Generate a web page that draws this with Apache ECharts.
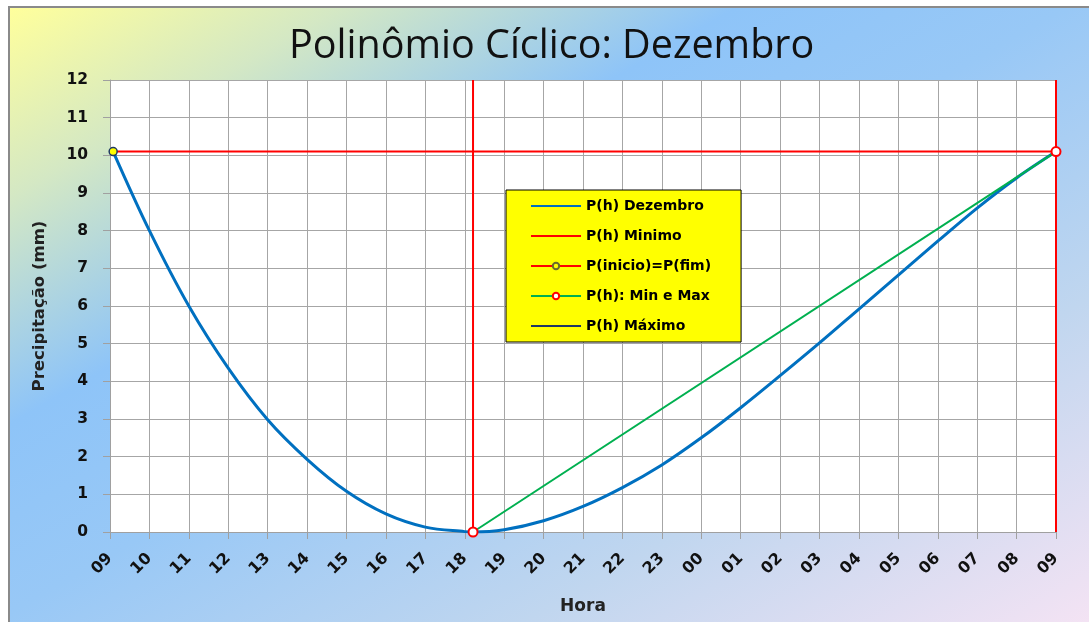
<!DOCTYPE html>
<html><head><meta charset="utf-8">
<script src="https://cdn.jsdelivr.net/npm/echarts@6/dist/echarts.min.js"></script>
<style>
html,body{margin:0;padding:0;background:#fff;overflow:hidden}
#bg{position:absolute;left:8px;top:6px;width:1100px;height:630px;border-left:2px solid #8a8a8a;border-top:2px solid #8a8a8a;
background:linear-gradient(to bottom right,#ffff9c 0%,#d4e8c4 15%,#8ec4f8 33%,#98c8f6 48%,#c0d6ef 72%,#f8e4f4 100%);}
#chart{position:absolute;left:0;top:0;width:1089px;height:622px}
</style></head>
<body><div id="bg"></div><div id="chart"></div>
<script>
// hours after 09:00
const hourLabels = ['09','10','11','12','13','14','15','16','17','18','19','20','21','22','23','00','01','02','03','04','05','06','07','08','09'];
const curveX = [0.08,1,2,3,4,5,6,7,8,9,9.21,10,11,12,13,14,15,16,17,18,19,20,21,22,23,24];
const curveY = [10.1,8.0,6.0,4.35,2.98,1.93,1.08,0.48,0.13,0.01,0,0.06,0.3,0.68,1.18,1.78,2.5,3.3,4.15,5.02,5.92,6.82,7.72,8.6,9.4,10.1];
const startX = 0.08, endX = 24, minX = 9.21;
const startY = 10.1, minY = 0, yTop = 12;

const chart = echarts.init(document.getElementById('chart'), null, {renderer:'canvas'});
const BOLD = 'DejaVu Sans';
const curve = curveX.map((x,i)=>[x,curveY[i]]);
const noSym = {itemStyle:{opacity:0}};
chart.setOption({
  backgroundColor:'transparent',
  animation:false,
  title:{text:'Polinômio Cíclico: Dezembro',left:284,top:22,
    textStyle:{fontFamily:'Open Sans',fontSize:39.5,fontWeight:'normal',color:'#111'}},
  grid:{left:110,right:33,top:80,bottom:90,show:true,backgroundColor:'#fff',borderWidth:0,outerBoundsMode:'none'},
  legend:{orient:'vertical',left:506,top:190,backgroundColor:'#ffff00',borderColor:'#000',borderWidth:1,borderRadius:0,
    padding:[9,30,9,24],itemWidth:50,itemHeight:8,itemGap:16,
    textStyle:{fontFamily:BOLD,fontSize:14,fontWeight:'bold',color:'#000'},
    data:[Object.assign({name:'P(h) Dezembro'},noSym),Object.assign({name:'P(h) Minimo'},noSym),
      'P(inicio)=P(fim)','P(h): Min e Max',Object.assign({name:'P(h) Máximo'},noSym)]},
  xAxis:{type:'value',min:0,max:24,interval:1,
    axisLine:{lineStyle:{color:'#a0a0a0'}},
    axisTick:{show:true,length:7,lineStyle:{color:'#a0a0a0'}},
    splitLine:{show:true,lineStyle:{color:'#a6a6a6',width:1}},
    axisLabel:{rotate:45,margin:24,fontFamily:BOLD,fontSize:16,fontWeight:'bold',color:'#111',
      formatter:v=>hourLabels[Math.round(v)]},
    name:'Hora',nameLocation:'middle',nameGap:66,
    nameTextStyle:{fontFamily:BOLD,fontSize:17,fontWeight:'bold',color:'#222'}},
  yAxis:{type:'value',min:0,max:12,interval:1,
    axisLine:{show:true,lineStyle:{color:'#a0a0a0'}},
    axisTick:{show:true,length:7,lineStyle:{color:'#a0a0a0'}},
    splitLine:{show:true,lineStyle:{color:'#a6a6a6',width:1}},
    axisLabel:{margin:22,fontFamily:BOLD,fontSize:15.5,fontWeight:'bold',color:'#111'},
    name:'Precipitação (mm)',nameLocation:'middle',nameGap:62,nameRotate:90,
    nameTextStyle:{fontFamily:BOLD,fontSize:16.5,fontWeight:'bold',color:'#222'}},
  series:[
    {name:'P(h) Máximo',type:'line',symbol:'none',z:1,
      lineStyle:{color:'#1f3864',width:2},itemStyle:{color:'#1f3864'},
      data:[[endX,minY],[endX,yTop]],
      markPoint:{symbol:'circle',symbolSize:8,itemStyle:{color:'#1f3864'},label:{show:false},
        data:[{coord:[endX+0.07,startY+0.02]}]}},
    {name:'P(h) Dezembro',type:'line',symbol:'none',smooth:0.35,z:3,
      lineStyle:{color:'#0070c0',width:3},itemStyle:{color:'#0070c0'},data:curve},
    {name:'P(h) Minimo',type:'line',symbol:'none',z:4,connectNulls:false,
      lineStyle:{color:'#ff0000',width:2},itemStyle:{color:'#ff0000'},
      data:[[minX,minY],[minX,yTop],'-',[endX,minY],[endX,yTop]]},
    {name:'P(inicio)=P(fim)',type:'line',symbol:'circle',symbolSize:8,z:5,
      lineStyle:{color:'#ff0000',width:2},
      itemStyle:{color:'#ffff00',borderColor:'#6b6b2e',borderWidth:1.5},
      data:[{value:[startX,startY],itemStyle:{color:'#ffff00',borderColor:'#1f3864',borderWidth:1.5}},
            {value:[endX,startY],symbol:'none'}]},
    {name:'P(h): Min e Max',type:'line',symbol:'circle',symbolSize:9,z:6,
      lineStyle:{color:'#00b050',width:2},
      itemStyle:{color:'#ffffff',borderColor:'#ff0000',borderWidth:2},
      data:[[minX,minY],[endX,startY]]}
  ]
});
</script></body></html>
